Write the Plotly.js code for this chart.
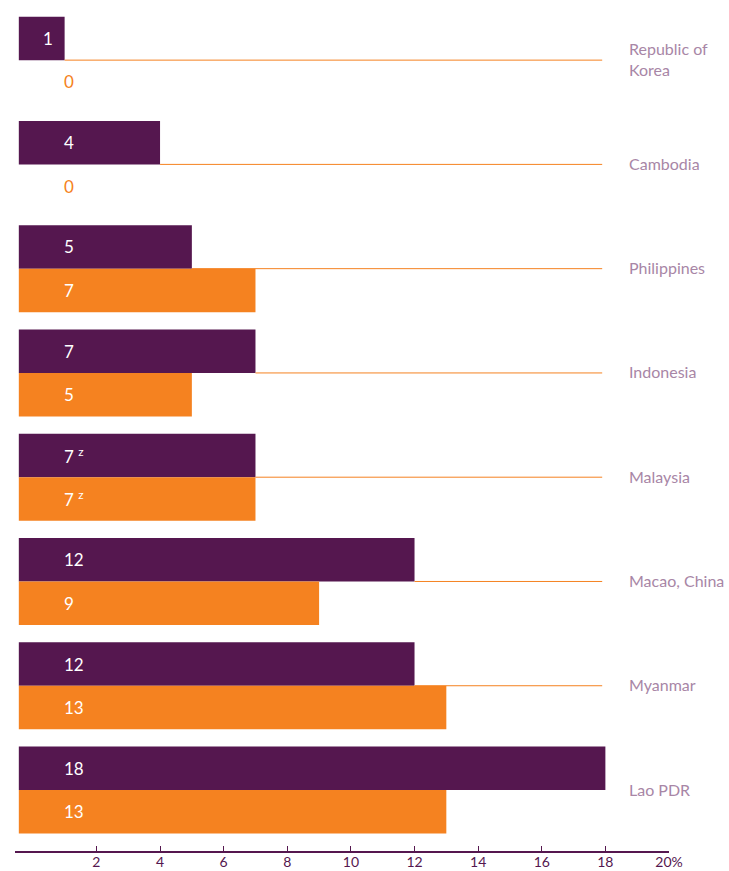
<!DOCTYPE html>
<html>
<head>
<meta charset="utf-8">
<script src="https://cdn.plot.ly/plotly-3.0.1.min.js"></script>
<style>html,body{margin:0;padding:0;background:#fff;}#chart{width:729px;height:871px;}</style>
</head>
<body>
<div id="chart"></div>
<script>
// Data
const countries = ['Republic of Korea', 'Cambodia', 'Philippines', 'Indonesia', 'Malaysia', 'Macao, China', 'Myanmar', 'Lao PDR'];
const countryLabels = ['Republic of<br>Korea', 'Cambodia', 'Philippines', 'Indonesia', 'Malaysia', 'Macao, China', 'Myanmar', 'Lao PDR'];
const purpleValues = [1, 4, 5, 7, 7, 12, 12, 18];
const orangeValues = [0, 0, 7, 5, 7, 9, 13, 13];
const purpleNotes = ['', '', '', '', 'z', '', '', ''];
const orangeNotes = ['', '', '', '', 'z', '', '', ''];
const tickVals = [2, 4, 6, 8, 10, 12, 14, 16, 18, 20];
const tickText = ['2', '4', '6', '8', '10', '12', '14', '16', '18', '20%'];

// Styles
const PURPLE = '#55174f';
const ORANGE = '#f58220';
const LABEL = '#a886a6';
const FONT = 'Lato, "Open Sans", sans-serif';
const BASE = -0.44;      // bars start slightly left of zero, as in the original design
const LINE_END = 17.9;   // connector lines end here

const barX = v => v > 0 ? v - BASE : 0;

const traces = [
  {type: 'bar', orientation: 'h', y: countries, x: purpleValues.map(barX), base: BASE,
   marker: {color: PURPLE, line: {width: 0}}, hoverinfo: 'skip', showlegend: false},
  {type: 'bar', orientation: 'h', y: countries, x: orangeValues.map(barX), base: BASE,
   marker: {color: ORANGE, line: {width: 0}}, hoverinfo: 'skip', showlegend: false}
];

// connector lines from end of purple bar to right labels
const lx = [], ly = [];
countries.forEach((c, i) => {
  if (purpleValues[i] < LINE_END) {
    lx.push(purpleValues[i], LINE_END, null);
    ly.push(c, c, null);
  }
});
traces.push({type: 'scatter', mode: 'lines', x: lx, y: ly, line: {color: ORANGE, width: 1},
  hoverinfo: 'skip', showlegend: false, cliponaxis: false});

const annotations = [];
const HALF = 21.7;
function valueLabel(v, note, c, up, color) {
  const txt = String(v) + (note ? '&nbsp;<sup>' + note + '</sup>' : '');
  const small = v > 0 && v < 2;
  annotations.push({
    xref: 'x', yref: 'y', x: small ? v : 0.92, y: c,
    xanchor: small ? 'right' : 'left', yanchor: 'middle',
    xshift: small ? -10 : 0, yshift: up ? HALF : -HALF,
    text: txt, showarrow: false,
    font: {family: FONT, size: 17, color: color}
  });
}
countries.forEach((c, i) => {
  valueLabel(purpleValues[i], purpleNotes[i], c, true, '#ffffff');
  valueLabel(orangeValues[i], orangeNotes[i], c, false, orangeValues[i] > 0 ? '#ffffff' : ORANGE);
  annotations.push({
    xref: 'paper', yref: 'y', x: (627 - 15) / 654, y: c, xanchor: 'left', yanchor: 'middle',
    yshift: 1,
    text: countryLabels[i], showarrow: false, align: 'left',
    font: {family: FONT, size: 16, color: LABEL}
  });
});

const layout = {
  width: 729, height: 871,
  margin: {l: 15, r: 60, t: 8, b: 20, pad: 0},
  paper_bgcolor: '#ffffff', plot_bgcolor: '#ffffff',
  barmode: 'group', bargap: 0.166, bargroupgap: 0,
  showlegend: false,
  xaxis: {
    range: [-0.56, 20], showgrid: false, zeroline: false,
    showline: true, linecolor: PURPLE, linewidth: 1.5,
    ticks: 'inside', ticklen: 5, tickwidth: 1, tickcolor: PURPLE,
    tickvals: tickVals, ticktext: tickText, ticklabelstandoff: -2,
    tickfont: {family: FONT, size: 14, color: PURPLE}
  },
  yaxis: {
    type: 'category', categoryarray: countries, range: [7.585, -0.5],
    showgrid: false, zeroline: false, showline: false, showticklabels: false, ticks: ''
  },
  annotations: annotations
};

Plotly.newPlot('chart', traces, layout, {displayModeBar: false, staticPlot: true});
</script>
</body>
</html>
